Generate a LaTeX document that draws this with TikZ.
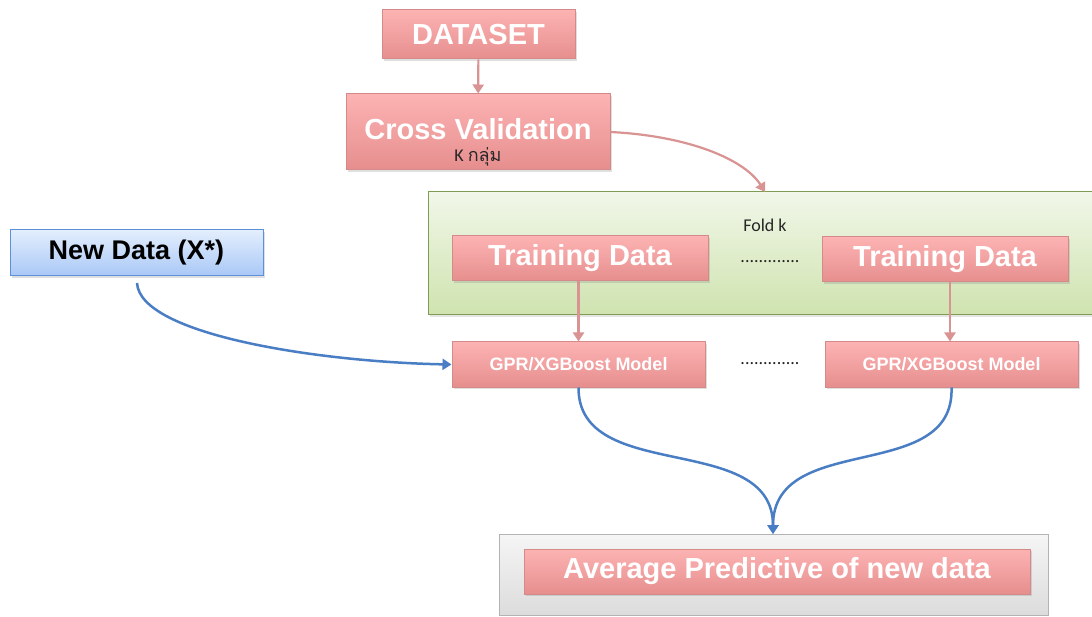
\documentclass[tikz,border=0pt]{standalone}
\usepackage{fontspec}
\setmainfont{Liberation Sans}
\newfontfamily\thaifont[Script=Thai]{Loma}
\newfontfamily\calfont{Carlito}
\usetikzlibrary{arrows.meta,shadows}
\definecolor{pinkTop}{HTML}{FDB3B3}
\definecolor{pinkBot}{HTML}{E68E8E}
\definecolor{pinkLine}{HTML}{D58A8A}
\definecolor{conPink}{HTML}{D99393}
\definecolor{conBlue}{HTML}{4A7EC4}
\definecolor{greenTop}{HTML}{F1F7E9}
\definecolor{greenBot}{HTML}{CFE3AF}
\definecolor{greenLine}{HTML}{7E9C52}
\definecolor{blueTop}{HTML}{E3EEFD}
\definecolor{blueBot}{HTML}{A9C8F6}
\definecolor{blueLine}{HTML}{5C90D8}
\definecolor{grayTop}{HTML}{F5F5F5}
\definecolor{grayBot}{HTML}{DCDCDC}
\definecolor{grayLine}{HTML}{B3B3B3}
\tikzset{
  pinkbox/.style={rectangle, draw=pinkLine, line width=1pt, top color=pinkTop, bottom color=pinkBot,
    drop shadow={shadow xshift=1.5pt, shadow yshift=-2pt, opacity=0.25},
    text=white, font=\bfseries\fontsize{29}{32}\selectfont, inner sep=0pt},
  smallpink/.style={pinkbox, font=\bfseries\fontsize{18}{20}\selectfont},
  bluebox/.style={rectangle, draw=blueLine, line width=1pt, top color=blueTop, bottom color=blueBot,
    drop shadow={shadow xshift=1.5pt, shadow yshift=-2pt, opacity=0.25},
    text=black, font=\bfseries\fontsize{27}{30}\selectfont, inner sep=0pt},
  greenbox/.style={rectangle, draw=greenLine, line width=1pt, top color=greenTop, bottom color=greenBot,
    drop shadow={shadow xshift=1.5pt, shadow yshift=-2pt, opacity=0.2}, inner sep=0pt},
  graybox/.style={rectangle, draw=grayLine, line width=1pt, top color=grayTop, bottom color=grayBot, inner sep=0pt},
  pinkcon/.style={draw=conPink, line width=2.2pt, -{Triangle[length=9pt,width=11pt]}},
  bluecon/.style={draw=conBlue, line width=2.5pt, -{Triangle[length=9pt,width=11pt]}},
  smalltxt/.style={text=black!85, font=\calfont\fontsize{18}{20}\selectfont, inner sep=0pt},
  whitetxt/.style={text=white, font=\bfseries\fontsize{29}{32}\selectfont, inner sep=0pt},
}
\begin{document}
\begin{tikzpicture}[x=1pt,y=-1pt]
\useasboundingbox[fill=white] (0,0) rectangle (1092,617);
% containers
\node[greenbox, minimum width=672pt, minimum height=123pt] (green) at (764,253.5) {};
\node[graybox, minimum width=549pt, minimum height=81pt] (gray) at (773.5,574.5) {};
% boxes
\node[pinkbox, minimum width=193pt, minimum height=49pt] (ds) at (478.5,34.5) {DATASET};
\node[pinkbox, minimum width=264pt, minimum height=76pt] (cv) at (478,132) {};
\node[whitetxt] (cvtext) at (478,129) {Cross Validation};
\node[smalltxt] (cvk) at (478,157) {K \thaifont กลุ่ม};
\node[smalltxt] (fold) at (765,225) {Fold k};
\node[pinkbox, minimum width=256pt, minimum height=45pt] (t1) at (580,258.5) {Training Data};
\node[pinkbox, minimum width=246pt, minimum height=45pt] (t2) at (945,259.5) {Training Data};
\node[smalltxt] (dots1) at (770,262) {.............};
\node[smallpink, minimum width=253pt, minimum height=45pt] (g1) at (578.5,364.5) {GPR/XGBoost Model};
\node[smallpink, minimum width=253pt, minimum height=45pt] (g2) at (951.5,364.5) {GPR/XGBoost Model};
\node[smalltxt] (dots2) at (770,364) {.............};
\node[bluebox, minimum width=253pt, minimum height=46pt] (nd) at (136.5,253) {New Data (X*)};
\node[pinkbox, minimum width=506pt, minimum height=45pt] (avg) at (777,571.5) {Average Predictive of new data};
% connectors
\coordinate (gtop) at (765,192);
\coordinate (graytop) at (773,534);
\coordinate (ndout) at (137,283);
\draw[pinkcon] (ds) -- (cv);
\draw[pinkcon] (cv.east) .. controls (690,136) and (745,160) .. (gtop);
\draw[pinkcon] (g1.north |- t1.south) -- (g1.north);
\draw[pinkcon] (t2.south -| 950,0) -- (g2.north -| 950,0);
\draw[bluecon] (ndout) .. controls (140,335) and (320,362) .. (g1.west);
\draw[bluecon] (g1.south) .. controls (578,485) and (773,430) .. (graytop);
\draw[bluecon] (g2.south) .. controls (955,485) and (773,430) .. (graytop);
\end{tikzpicture}
\end{document}
